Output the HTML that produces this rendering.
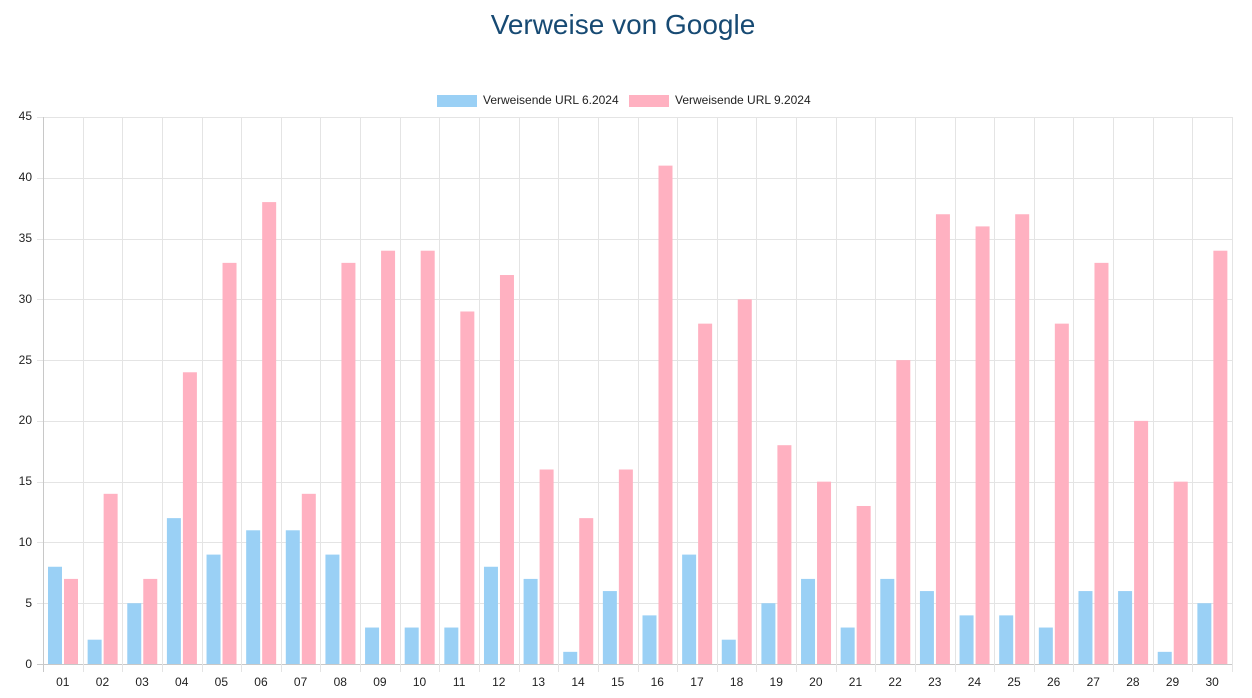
<!DOCTYPE html>
<html><head><meta charset="utf-8"><style>
html,body{margin:0;padding:0;background:#fff;}
svg{display:block;font-family:"Liberation Sans",Arial,sans-serif;}
</style></head><body>
<svg id="c" width="1252" height="698" xmlns="http://www.w3.org/2000/svg">
<text x="623" y="34" text-anchor="middle" font-size="28" fill="#174a73">Verweise von Google</text>
<rect x="437" y="95" width="40" height="12" fill="#9ad0f5"/>
<text x="483" y="104" font-size="12" fill="#222">Verweisende URL 6.2024</text>
<rect x="629" y="95" width="40" height="12" fill="#ffb1c1"/>
<text x="675" y="104" font-size="12" fill="#222">Verweisende URL 9.2024</text>
<g id="grid"></g>
<g id="bars"></g>
<g font-size="12" fill="#222" text-anchor="end">
<text x="32" y="668">0</text><text x="32" y="607">5</text><text x="32" y="546">10</text>
<text x="32" y="485">15</text><text x="32" y="424">20</text><text x="32" y="364">25</text>
<text x="32" y="303">30</text><text x="32" y="242">35</text><text x="32" y="181">40</text>
<text x="32" y="120">45</text>
</g>
<g id="xl" font-size="12" fill="#222" text-anchor="middle">
<text>01</text><text>02</text><text>03</text><text>04</text><text>05</text><text>06</text><text>07</text><text>08</text><text>09</text><text>10</text>
<text>11</text><text>12</text><text>13</text><text>14</text><text>15</text><text>16</text><text>17</text><text>18</text><text>19</text><text>20</text>
<text>21</text><text>22</text><text>23</text><text>24</text><text>25</text><text>26</text><text>27</text><text>28</text><text>29</text><text>30</text>
</g>
</svg>
<script>
var b=[8,2,5,12,9,11,11,9,3,3,3,8,7,1,6,4,9,2,5,7,3,7,6,4,4,3,6,6,1,5];
var p=[7,14,7,24,33,38,14,33,34,34,29,32,16,12,16,41,28,30,18,15,13,25,37,36,37,28,33,20,15,34];
var ns="http://www.w3.org/2000/svg",x0=43,x1=1232,y0=664,u=(664-117)/45,w=(x1-x0)/30;
var g=document.getElementById('grid'),bs=document.getElementById('bars');
function el(t,a,par){var e=document.createElementNS(ns,t);for(var k in a)e.setAttribute(k,a[k]);par.appendChild(e);return e;}
for(var i=0;i<=9;i++){var y=Math.round(y0-i*5*u)+0.5;el('line',{x1:x0-6,x2:x1,y1:y,y2:y,stroke:i==0?'#c8c8c8':'#e4e4e4','stroke-width':1},g);}
for(var i=0;i<=30;i++){var x=Math.round(x0+i*w)+0.5;el('line',{x1:x,x2:x,y1:117,y2:y0+8,stroke:i==0?'#c8c8c8':'#e4e4e4','stroke-width':1},g);}
var xl=document.getElementById('xl').children;
for(var i=0;i<30;i++){var cx=x0+i*w;
el('rect',{x:cx+5,y:y0-b[i]*u,width:14,height:b[i]*u,fill:'#9ad0f5'},bs);
el('rect',{x:cx+21,y:y0-p[i]*u,width:14,height:p[i]*u,fill:'#ffb1c1'},bs);
xl[i].setAttribute('x',cx+w/2);xl[i].setAttribute('y',686);}
</script>
</body></html>
